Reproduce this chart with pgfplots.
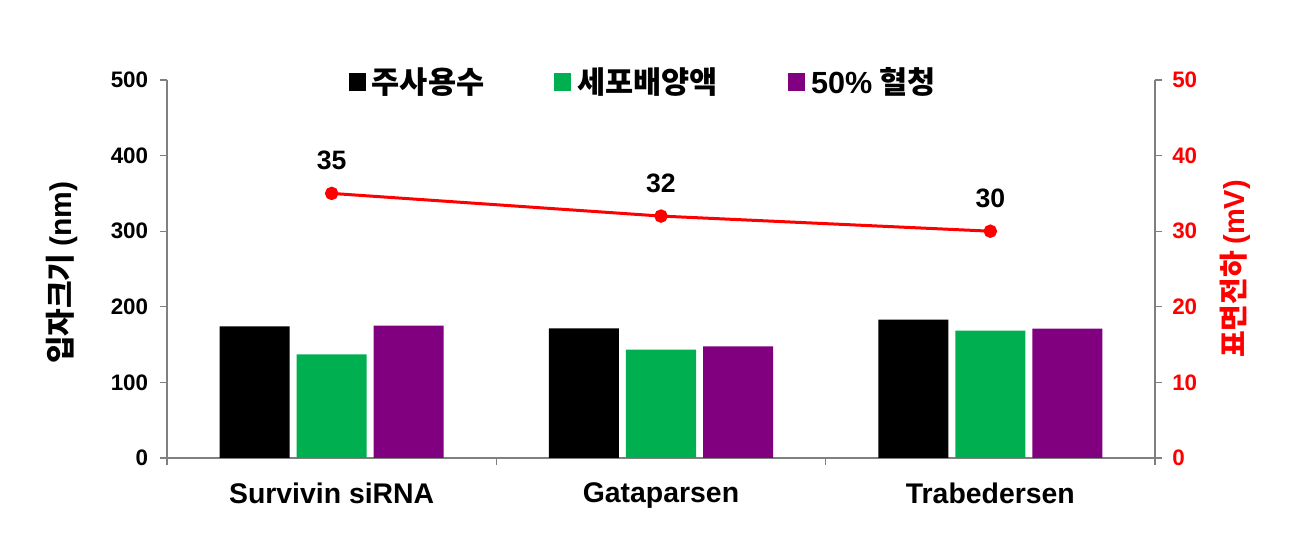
\documentclass[border=0pt]{standalone}
\usepackage{pgfplots}
\pgfplotsset{compat=1.18}
\usepackage{fontspec}
\setmainfont{Liberation Sans}
\newfontfamily\kr{Noto Sans CJK KR}
\definecolor{cgreen}{RGB}{0,176,80}
\definecolor{cpurple}{RGB}{128,0,128}
\definecolor{cred}{RGB}{255,0,0}
\definecolor{cgray}{RGB}{128,128,128}
\begin{document}
\begin{tikzpicture}
\begin{axis}[
  scale only axis, width=494pt, height=189pt,
  xmin=-0.5, xmax=2.5, ymin=0, ymax=500,
  axis x line*=bottom, axis y line*=left,
  axis line style={cgray, line width=0.6pt},
  ybar=3.5pt, bar width=35pt,
  xtick={0,1,2},
  xticklabels={Survivin siRNA, Gataparsen, Trabedersen},
  major x tick style={draw=none},
  minor xtick={-0.5,0.5,1.5,2.5},
  minor x tick style={cgray, line width=0.6pt},
  minor tick length=3.5pt,
  ytick={0,100,...,500},
  major y tick style={cgray, line width=0.6pt},
  major tick length=3.5pt,
  tick align=outside,
  /pgf/number format/assume math mode=true,
  yticklabel style={font=\fontsize{11.2}{13}\selectfont\bfseries, xshift=-2.4pt},
  xticklabel style={font=\fontsize{14.2}{16}\selectfont\bfseries, yshift=-5.5pt},
  ylabel={\kr\bfseries 입자크기 \rmfamily(nm)},
  every axis y label/.style={at={(axis description cs:-0.106,0.49)}, rotate=90, anchor=center,
    font=\fontsize{15}{17}\selectfont\bfseries},
  legend columns=3,
  legend style={draw=none, fill=none, at={(0.483,0.995)}, anchor=center,
    font=\fontsize{15.3}{17}\selectfont\kr\bfseries,
    /tikz/every odd column/.append style={column sep=1pt},
    /tikz/every even column/.append style={column sep=33pt}},
  legend image code/.code={\fill[#1] (0pt,-4.5pt) rectangle (8.5pt,4.5pt);},
  clip=false,
]
\addplot[fill=black, draw=none] coordinates {(0,174) (1,171.5) (2,183)};
\addplot[fill=cgreen, draw=none] coordinates {(0,137) (1,143.5) (2,168.5)};
\addplot[fill=cpurple, draw=none] coordinates {(0,175) (1,147.5) (2,171)};
\legend{주사용수, 세포배양액, {\rmfamily 50\%} 혈청}
\end{axis}
\begin{axis}[
  scale only axis, width=494pt, height=189pt,
  xmin=-0.5, xmax=2.5, ymin=0, ymax=50,
  axis x line=none, axis y line*=right,
  axis line style={cgray, line width=0.6pt},
  ytick={0,10,...,50},
  major y tick style={cgray, line width=0.6pt},
  major tick length=3.5pt,
  tick align=outside,
  /pgf/number format/assume math mode=true,
  yticklabel style={font=\fontsize{11.2}{13}\selectfont\bfseries, text=cred, xshift=1.6pt},
  ylabel={\kr\bfseries 표면전하 \rmfamily(mV)},
  every axis y label/.style={at={(axis description cs:1.081,0.5)}, rotate=90, anchor=center,
    font=\fontsize{14.5}{16}\selectfont\bfseries, text=cred},
  clip=false,
]
\addplot[cred, line width=1.5pt, mark=*, mark size=2.6pt, mark options={fill=cred, draw=cred},
  nodes near coords, every node near coord/.append style={anchor=center, yshift=16.5pt, text=black, font=\fontsize{13.3}{15}\selectfont\bfseries}]
  coordinates {(0,35) (1,32) (2,30)};
\end{axis}
\pgfresetboundingbox
\path ([shift={(-83.5pt,-37.5pt)}]current axis.south west) rectangle ([shift={(73pt,40pt)}]current axis.north east);
\end{tikzpicture}
\end{document}
